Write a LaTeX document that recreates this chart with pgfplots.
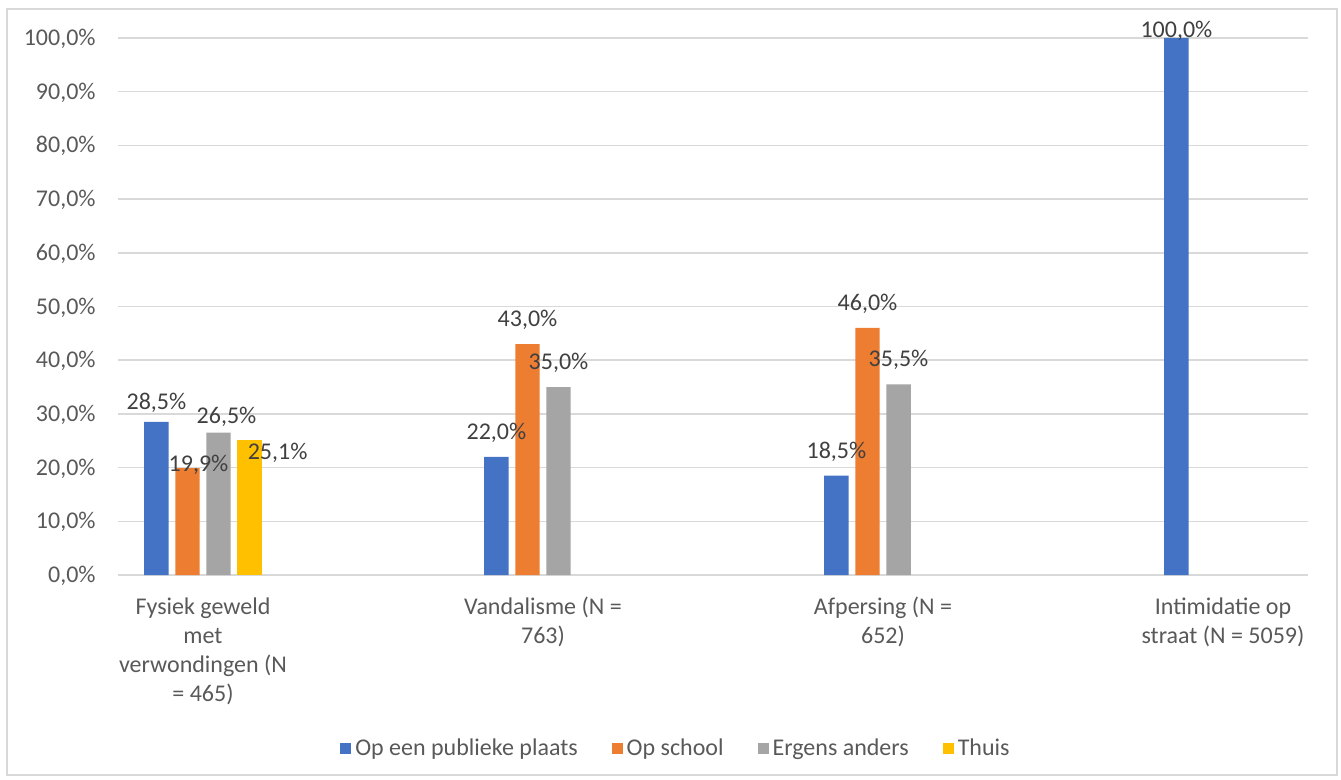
\documentclass[border=0pt]{standalone}
\usepackage{pgfplots}
\pgfplotsset{compat=1.18}
\usepackage{pgfplotstable}
\usepackage{fontspec}
\setmainfont{Carlito}

\definecolor{sblue}{RGB}{68,114,196}
\definecolor{sorange}{RGB}{237,125,49}
\definecolor{sgray}{RGB}{165,165,165}
\definecolor{syellow}{RGB}{255,192,0}
\definecolor{gridgray}{RGB}{217,217,217}
\definecolor{labgray}{RGB}{89,89,89}
\definecolor{datagray}{RGB}{64,64,64}

% x = category, y = percentage, dx/dy = label nudge in bp
\pgfplotstableread{
x y dx dy
0 28.5 0 -2.5
1 22.0 0 0
2 18.5 0 0
3 100.0 0 -8.5
}\publiek
\pgfplotstableread{
x y dx dy
0 19.9 5.5 -10.5
1 43.0 0 0
2 46.0 0 0
}\school
\pgfplotstableread{
x y dx dy
0 26.5 4 -4
1 35.0 0 0
2 35.5 0 0
}\anders
\pgfplotstableread{
x y dx dy
0 25.1 14 -18.5
}\thuis

\newcommand\labfont{\fontsize{12bp}{14.5bp}\selectfont}

% #1 colour, #2 bar shift in axis units, #3 the same shift in bp (for the labels)
\pgfplotsset{
  mybar/.style n args={3}{
    ybar, draw=none, fill=#1, bar width=0.072, bar shift=#2,
    visualization depends on={\thisrow{dx} \as \dx},
    visualization depends on={\thisrow{dy} \as \dy},
    nodes near coords={\pgfmathprintnumber[fixed,fixed zerofill,precision=1,use comma]{\pgfplotspointmeta}\%},
    nodes near coords style={anchor=base, inner sep=0pt, font=\labfont, text=datagray,
      xshift=#3, yshift=8.7bp, yshift=\dy bp, xshift=\dx bp},
  },
}

\begin{document}
\begin{tikzpicture}
\useasboundingbox (-59bp,-102.5bp) rectangle (611.5bp,287.5bp);
\draw[line width=0.75bp, gridgray] (-55.5bp,-100bp) rectangle (609.5bp,283bp);
\begin{axis}[
  at={(0,0)}, anchor=south west,
  scale only axis, width=595bp, height=268.5bp,
  xmin=-0.25, xmax=3.25, ymin=0, ymax=100,
  clip=false,
  axis line style={draw=none},
  tick style={draw=none},
  ymajorgrids, grid style={gridgray, line width=0.75bp},
  /pgf/number format/assume math mode=true,
  ytick={0,10,...,100},
  yticklabel={\pgfmathprintnumber[fixed,fixed zerofill,precision=1,use comma]{\tick}\%},
  yticklabel style={anchor=base east, inner sep=0pt, xshift=-11bp, yshift=-3.8bp,
    font=\labfont, text=labgray},
  xtick={0,1,2,3},
  xticklabels={{Fysiek geweld\\met\\verwondingen (N\\= 465)},
    {Vandalisme (N =\\763)}, {Afpersing (N =\\652)}, {Intimidatie op\\straat (N = 5059)}},
  xticklabel style={align=center, anchor=north, inner sep=0pt, yshift=-11bp,
    font=\labfont, text=labgray},
  legend columns=-1,
  legend style={at={(0.4697,-0.324)}, anchor=center, draw=none, fill=none,
    font=\labfont, text=labgray,
    /tikz/every even column/.append style={column sep=15bp}},
  legend image code/.code={\fill[#1] (0bp,-2.75bp) rectangle (5.5bp,2.75bp);},
]
\addplot[mybar={sblue}{-0.137}{-23.29bp}] table[x=x, y=y] {\publiek};
\addplot[mybar={sorange}{-0.0456}{-7.75bp}] table[x=x, y=y] {\school};
\addplot[mybar={sgray}{0.0456}{7.75bp}] table[x=x, y=y] {\anders};
\addplot[mybar={syellow}{0.137}{23.29bp}] table[x=x, y=y] {\thuis};
\legend{Op een publieke plaats, Op school, Ergens anders, Thuis}
\end{axis}
\end{tikzpicture}
\end{document}
